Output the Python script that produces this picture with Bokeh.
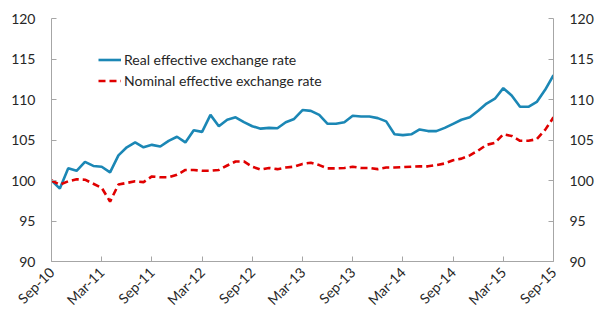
import math
from bokeh.plotting import figure
from bokeh.models import LinearAxis, Range1d, FixedTicker, Legend, LegendItem, ColumnDataSource
from bokeh.embed import file_html
from bokeh.resources import INLINE

tick_labels = ["Sep-10", "Mar-11", "Sep-11", "Mar-12", "Sep-12", "Mar-13",
               "Sep-13", "Mar-14", "Sep-14", "Mar-15", "Sep-15"]

real_eer = [100.0, 99.0, 101.5, 101.2, 102.3, 101.8, 101.7, 101.0, 103.1, 104.1,
            104.7, 104.1, 104.4, 104.2, 104.9, 105.4, 104.7, 106.2, 106.0, 108.1,
            106.7, 107.5, 107.8, 107.2, 106.7, 106.4, 106.5, 106.45, 107.2, 107.6,
            108.7, 108.6, 108.1, 107.0, 107.0, 107.2, 108.0, 107.9, 107.9, 107.7,
            107.3, 105.7, 105.6, 105.7, 106.3, 106.1, 106.1, 106.5, 107.0, 107.5,
            107.8, 108.6, 109.5, 110.1, 111.4, 110.5, 109.1, 109.1, 109.7, 111.2,
            113.0]

nominal_eer = [100.0, 99.5, 99.9, 100.15, 100.1, 99.6, 99.1, 97.4, 99.5, 99.7,
               99.9, 99.8, 100.5, 100.4, 100.4, 100.7, 101.3, 101.3, 101.2, 101.2,
               101.3, 101.85, 102.35, 102.35, 101.7, 101.35, 101.55, 101.4, 101.6, 101.7,
               102.05, 102.2, 101.9, 101.5, 101.5, 101.55, 101.7, 101.55, 101.55, 101.4,
               101.6, 101.6, 101.65, 101.7, 101.75, 101.75, 101.9, 102.1, 102.5, 102.7,
               103.1, 103.7, 104.4, 104.65, 105.7, 105.5, 104.9, 104.9, 105.1, 106.25,
               107.8]

months = list(range(len(real_eer)))
src = ColumnDataSource(dict(x=months, real=real_eer, nominal=nominal_eer))

FONT = "Lato"
TXT = "#262626"
AX = "#A6A6A6"

p = figure(width=596, height=318, output_backend="svg", toolbar_location=None,
           x_range=Range1d(0, 60), y_range=Range1d(90, 120),
           min_border_left=51, min_border_right=43, min_border_top=18, min_border_bottom=57)
p.outline_line_color = None
p.grid.visible = False
p.background_fill_color = "white"

r1 = p.line("x", "real", source=src, line_color="#1B87B5", line_width=2.6)
r2 = p.line("x", "nominal", source=src, line_color="#E00000", line_width=2.6, line_dash="7 4")

p.add_layout(LinearAxis(), "right")

for ax in p.yaxis:
    ax.ticker = FixedTicker(ticks=[90, 95, 100, 105, 110, 115, 120])
    ax.major_label_text_font = FONT
    ax.major_label_text_font_size = "14px"
    ax.major_label_text_color = TXT
    ax.axis_line_color = AX
    ax.major_tick_line_color = AX
    ax.major_tick_in = 5
    ax.major_tick_out = 0
    ax.minor_tick_line_color = None
    ax.major_label_standoff = 16

xa = p.xaxis[0]
xa.ticker = FixedTicker(ticks=[i * 6 for i in range(len(tick_labels))])
xa.major_label_overrides = {i * 6: lab for i, lab in enumerate(tick_labels)}
xa.major_label_orientation = math.pi / 4
xa.major_label_text_font = FONT
xa.major_label_text_font_size = "14px"
xa.major_label_text_color = TXT
xa.axis_line_color = AX
xa.major_tick_line_color = AX
xa.major_tick_in = 5
xa.major_tick_out = 0
xa.minor_tick_line_color = None
xa.major_label_standoff = 8

legend = Legend(items=[LegendItem(label="Real effective exchange rate", renderers=[r1]),
                       LegendItem(label="Nominal effective exchange rate", renderers=[r2])],
                location=(47, 170))
legend.background_fill_alpha = 0
legend.border_line_color = None
legend.padding = 0
legend.margin = 0
legend.spacing = 0
legend.glyph_width = 23
legend.glyph_height = 21
legend.label_height = 21
legend.label_standoff = 3
legend.label_text_font = FONT
legend.label_text_font_size = "14px"
legend.label_text_color = TXT
p.add_layout(legend, "center")

open("out.html", "w").write(file_html(p, INLINE))
